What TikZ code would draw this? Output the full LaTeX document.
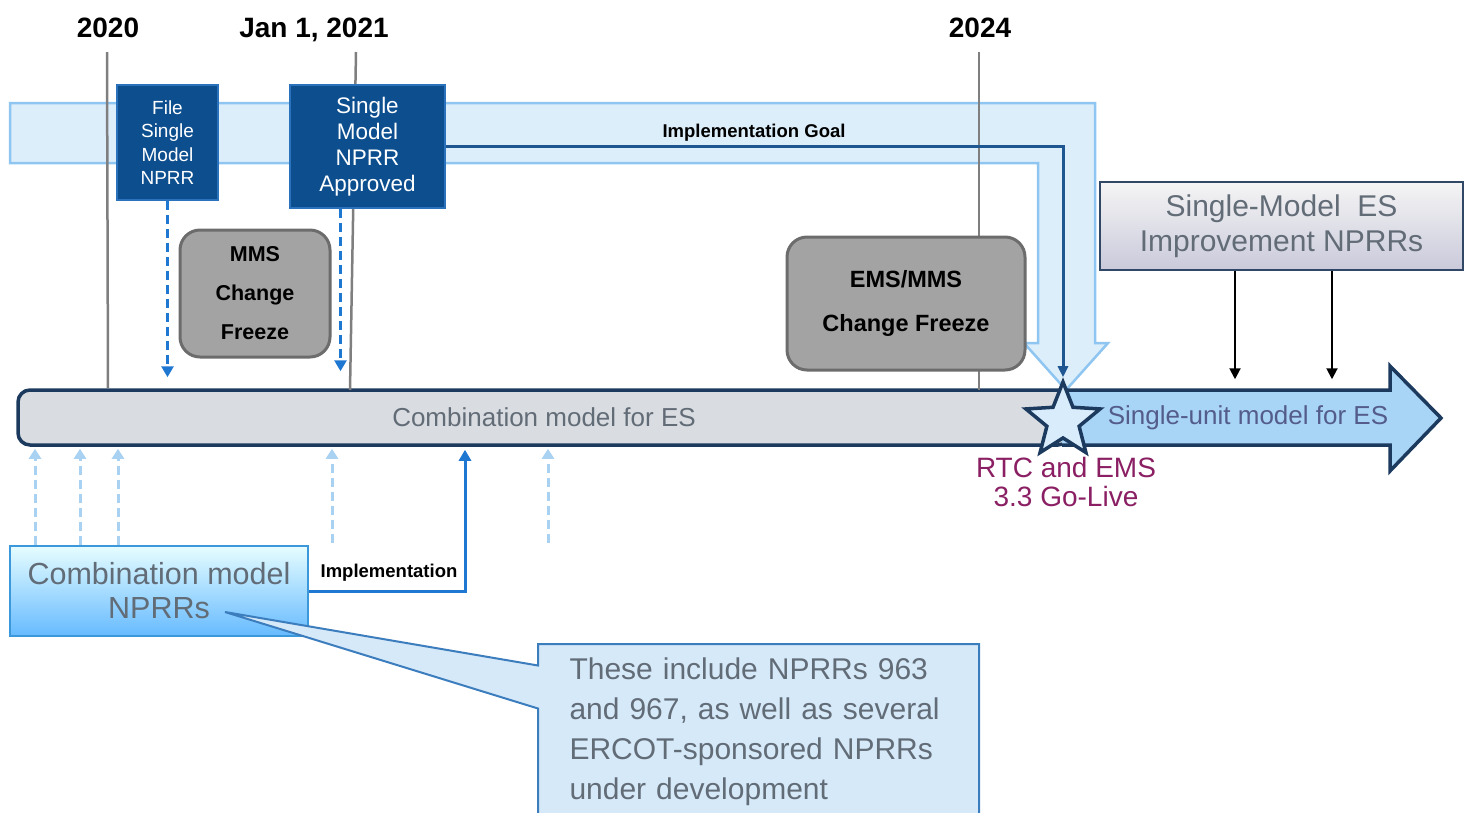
\documentclass[tikz,border=0pt]{standalone}
\usepackage{fontspec}
\setmainfont{Liberation Sans}
\usetikzlibrary{calc, positioning, arrows.meta, shapes, shapes.geometric, shapes.callouts}

\definecolor{navy}{HTML}{1C3A5E}
\definecolor{goalblue}{HTML}{1D5690}
\definecolor{boxblue}{HTML}{0D4E8E}
\definecolor{boxedge}{HTML}{2A72BC}
\definecolor{bandfill}{HTML}{DDEEFB}
\definecolor{bandedge}{HTML}{8EC5F1}
\definecolor{linegray}{HTML}{7F7F7F}
\definecolor{freezegray}{HTML}{A3A3A3}
\definecolor{freezeedge}{HTML}{6C6C6C}
\definecolor{barfill}{HTML}{D9DCE1}
\definecolor{arrowblue}{HTML}{A8D4F6}
\definecolor{starfill}{HTML}{D8ECFB}
\definecolor{dashblue}{HTML}{1E77D0}
\definecolor{paleblue}{HTML}{A9D1F2}
\definecolor{grayText}{HTML}{626C77}
\definecolor{golive}{HTML}{8A1F63}
\definecolor{calloutfill}{HTML}{D6E9F9}
\definecolor{calloutedge}{HTML}{3C7DBE}

\begin{document}
\begin{tikzpicture}[x=1pt, y=-1pt,
  year/.style={font=\fontsize{28}{30}\selectfont\bfseries},
  yearline/.style={draw=linegray, line width=2.5pt},
  bluebox/.style={draw=boxedge, fill=boxblue, text=white, line width=1.5pt, align=center, inner sep=0pt},
  freeze/.style={draw=freezeedge, fill=freezegray, rounded corners=20pt, line width=3pt, align=center, inner sep=0pt},
  small/.style={font=\fontsize{18.5}{20}\selectfont\bfseries},
  dashdown/.style={draw=dashblue, line width=3pt, dash pattern=on 9pt off 5pt, -{Triangle[length=11pt,width=12pt]}},
  dashup/.style={draw=paleblue, line width=3pt, dash pattern=on 9pt off 5pt, -{Triangle[length=10pt,width=12pt]}, shorten >=2pt},
  blackdown/.style={draw=black, line width=2pt, -{Triangle[length=11pt,width=11pt]}, shorten >=9pt}]

  \path[use as bounding box] (0,0) rectangle (1478,812);

  % big bent arrow behind everything
  \filldraw[fill=bandfill, draw=bandedge, line width=2.5pt]
    (10,103) -- (1095,103) -- (1095,343) -- (1108,343) -- (1066,390) -- (1024,343)
    -- (1038,343) -- (1038,163) -- (10,163) -- cycle;

  % timeline bar and single-unit arrow
  \node[draw=navy, fill=barfill, line width=3.5pt, rounded corners=12pt, minimum width=1052pt, minimum height=55pt,
        text=grayText, font=\fontsize{26}{28}\selectfont] (bar) at (544,417.5) {Combination model for ES};
  \filldraw[fill=arrowblue, draw=navy, line width=3.5pt, line join=miter]
    (1062,390) -- (1390,390) -- (1390,366) -- (1441,418) -- (1390,471) -- (1390,445) -- (1062,445);
  \node[text=grayText!85!blue, font=\fontsize{26}{28}\selectfont] (single) at (1248,418) {Single-unit model for ES};

  % years
  \node[year] (y2020) at (108,28) {2020};
  \node[year] (y2021) at (314,30) {Jan 1, 2021};
  \node[year] (y2024) at (980,28) {2024};
  \coordinate (t2021) at (356,52);
  \draw[yearline] (107,52) -- (y2020.south |- bar.north);
  \draw[yearline] (t2021) -- (350,390);
  \draw[yearline] (979,52) -- (979,390);

  % milestones
  \node[bluebox, minimum width=101pt, minimum height=115pt, font=\fontsize{19}{23.3}\selectfont] (filebox) at (167.5,142.5)
    {File\\Single\\Model\\NPRR};
  \node[bluebox, minimum width=155pt, minimum height=123pt, font=\fontsize{22.5}{26}\selectfont] (approvedbox) at (367.5,146.5)
    {Single\\Model\\NPRR\\Approved};

  \node[freeze, minimum width=150pt, minimum height=127pt, font=\fontsize{21.5}{39}\selectfont\bfseries] (mmsfreeze) at (255,293.5)
    {MMS\\Change\\Freeze};
  \node[freeze, minimum width=238pt, minimum height=133pt, font=\fontsize{23.5}{44}\selectfont\bfseries] (emsfreeze) at (906,303.5)
    {EMS/MMS\\Change Freeze};

  \draw[dashdown, shorten >=11pt] (filebox.south) -- (filebox.south |- bar.north);
  \draw[dashdown, shorten >=17pt] ([xshift=-27pt]approvedbox.south) -- ([xshift=-27pt]approvedbox.south |- bar.north);

  % go-live
  \node[star, star points=5, star point ratio=2.3, minimum size=78pt, inner sep=0pt, draw=navy, fill=starfill,
        line width=3.5pt] (golive) at (1063,421) {};
  \draw[goalblue, line width=3pt, -{Triangle[length=11pt,width=10pt]}] (approvedbox.east) -| (golive.north);
  \node[small] (goal) at (754,133) {Implementation Goal};
  \node[text=golive, align=center, font=\fontsize{28}{29}\selectfont] (golivetext) at (1066,482)
    {RTC and EMS\\3.3 Go-Live};

  % single-model improvements
  \node[draw=navy!80!gray, line width=2.5pt, top color=gray!8!white, bottom color=blue!20!gray!35!white,
        minimum width=363pt, minimum height=88pt, align=center, text=grayText, font=\fontsize{30}{35}\selectfont] (improve) at (1281.5,226)
    {Single-Model\ \ ES\\Improvement NPRRs};
  \foreach \x in {1235,1332}
    \draw[blackdown] (improve.south -| \x,0) -- (bar.north -| \x,0);

  % combination model NPRRs
  \node[draw=cyan!70!blue!80, line width=2pt, top color=blue!8!cyan!10!white, bottom color=blue!45!cyan!60!white,
        minimum width=298pt, minimum height=90pt, align=center, text=grayText, font=\fontsize{30.5}{34}\selectfont] (nprrs) at (159,591)
    {Combination model\\NPRRs};
  \foreach \x in {35,80,118}
    \draw[dashup] (nprrs.north -| \x,0) -- (bar.south -| \x,0);
  \foreach \x in {332,548}
    \draw[dashup] (\x,543) -- (bar.south -| \x,0);
  \draw[dashblue, line width=3pt, -{Triangle[length=11pt,width=12pt]}, shorten >=3pt] (nprrs.east) -| (bar.south -| 465,0);
  \node[small] (impl) at (389,573) {Implementation};

  % note
  \node[rectangle callout, callout absolute pointer={(225,612)}, callout pointer width=43pt,
        fill=calloutfill, draw=calloutedge, line width=2pt, anchor=north west, text width=378pt, align=left,
        inner xsep=31.5pt, inner ysep=14pt, text=grayText, font=\fontsize{30}{40}\selectfont] (note) at (537,643)
    {These include NPRRs 963\\and 967, as well as several\\ERCOT-sponsored NPRRs\\under development};
\end{tikzpicture}
\end{document}
